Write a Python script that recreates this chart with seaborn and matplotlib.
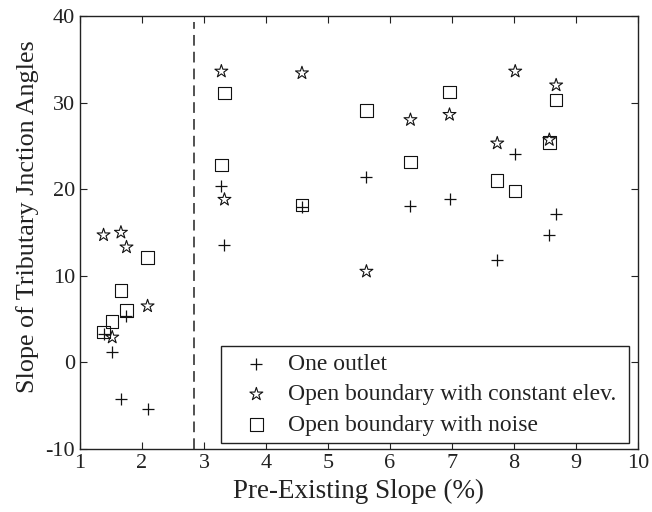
#!/usr/bin/env python3

import seaborn as sns
import pandas as pd
import matplotlib.pyplot as plt

# pre-existing slope (%) for each run, same for the three series
slope = [1.38, 1.52, 1.66, 1.75, 2.09, 3.28, 3.33, 4.58, 5.62, 6.33, 6.96, 7.73, 8.02, 8.57, 8.68]

one_outlet = [3.3, 1.2, -4.2, 5.3, -5.4, 20.4, 13.6, 17.9, 21.4, 18.1, 18.9, 11.8, 24.0, 14.7, 17.1]
const_elev = [14.7, 2.9, 15.0, 13.3, 6.5, 33.6, 18.8, 33.4, 10.5, 28.0, 28.6, 25.3, 33.6, 25.7, 32.0]
with_noise = [3.5, 4.7, 8.3, 6.0, 12.1, 22.8, 31.1, 18.2, 29.1, 23.1, 31.2, 21.0, 19.8, 25.4, 30.3]

labels = ["One outlet", "Open boundary with constant elev.", "Open boundary with noise"]
threshold = 2.84

sns.set_style("ticks")
plt.rcParams['font.family'] = ['Liberation Serif', 'DejaVu Serif']
plt.rcParams['axes.unicode_minus'] = False
plt.rcParams['text.color'] = '#222222'
plt.rcParams['axes.labelcolor'] = '#222222'
plt.rcParams['xtick.color'] = '#222222'
plt.rcParams['ytick.color'] = '#222222'

df = pd.DataFrame({"slope": slope, "outlet": one_outlet, "elev": const_elev, "noise": with_noise})

fig = plt.figure(figsize=(6.52, 5.12), dpi=100)
ax = fig.add_axes([0.1227, 0.123, 0.8558, 0.846])

sns.scatterplot(data=df, x="slope", y="outlet", marker="+", color="#111111", s=70,
                linewidth=0.9, label=labels[0], ax=ax)
sns.scatterplot(data=df, x="slope", y="elev", marker="*", facecolor="none", edgecolor="#111111",
                s=95, linewidth=0.8, label=labels[1], ax=ax)
sns.scatterplot(data=df, x="slope", y="noise", marker="s", facecolor="none", edgecolor="#111111",
                s=80, linewidth=0.8, label=labels[2], ax=ax)

ax.axvline(threshold, ymin=0, ymax=0.985, color="#222222", ls=(0, (7, 4)), lw=1.1)

ax.set_xlim(1, 10)
ax.set_ylim(-10, 40)
ax.set_xticks(range(1, 11))
ax.set_yticks(range(-10, 41, 10))
ax.tick_params(direction="in", top=True, right=True, length=5, labelsize=16, width=0.8)
for sp in ax.spines.values():
    sp.set_linewidth(1.0)
    sp.set_color("#222222")

ax.set_xlabel("Pre-Existing Slope (%)", fontsize=19.5, labelpad=4)
ax.set_ylabel("Slope of Tributary Jnction Angles", fontsize=18.8)
ax.yaxis.set_label_coords(-0.0735, 0.536)

leg = ax.legend(loc="lower left", bbox_to_anchor=(0.253, 0.014, 0.731, 0.22), mode="expand",
                borderaxespad=0, fancybox=False, edgecolor="#222222", fontsize=17,
                handletextpad=0.14, borderpad=0.3, labelspacing=0.38, handlelength=2.38,
                framealpha=1)
leg.get_frame().set_linewidth(1.0)

plt.savefig("out.png", dpi=100)
